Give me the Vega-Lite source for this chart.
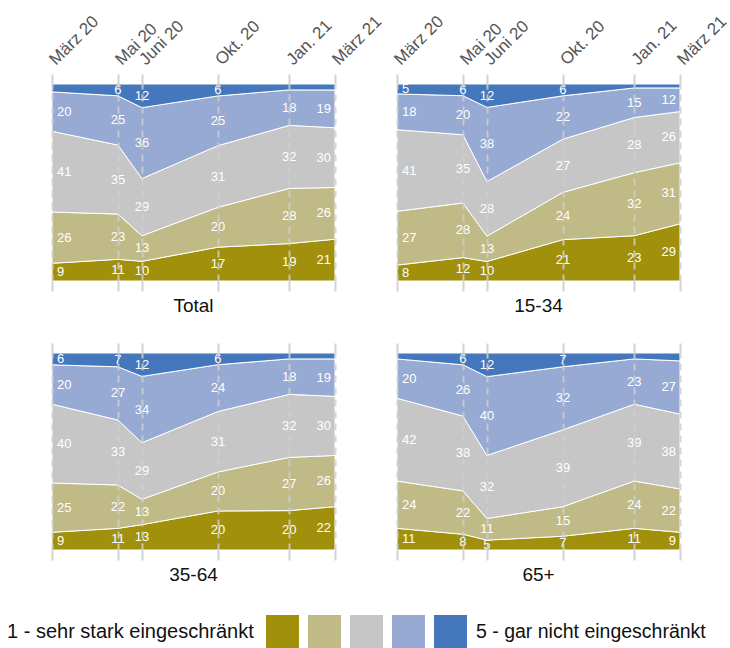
{
  "$schema": "https://vega.github.io/schema/vega-lite/v6.json",
  "padding": {"left": 7, "top": 12, "right": 0, "bottom": 0},
  "data": {"values": [
    {"g":"Total","date":"2020/03/05","cat":"1","v":9},{"g":"Total","date":"2020/03/05","cat":"2","v":26},{"g":"Total","date":"2020/03/05","cat":"3","v":41},{"g":"Total","date":"2020/03/05","cat":"4","v":20},{"g":"Total","date":"2020/03/05","cat":"5","v":4},
    {"g":"Total","date":"2020/05/29","cat":"1","v":11},{"g":"Total","date":"2020/05/29","cat":"2","v":23},{"g":"Total","date":"2020/05/29","cat":"3","v":35},{"g":"Total","date":"2020/05/29","cat":"4","v":25},{"g":"Total","date":"2020/05/29","cat":"5","v":6},
    {"g":"Total","date":"2020/06/29","cat":"1","v":10},{"g":"Total","date":"2020/06/29","cat":"2","v":13},{"g":"Total","date":"2020/06/29","cat":"3","v":29},{"g":"Total","date":"2020/06/29","cat":"4","v":36},{"g":"Total","date":"2020/06/29","cat":"5","v":12},
    {"g":"Total","date":"2020/10/05","cat":"1","v":17},{"g":"Total","date":"2020/10/05","cat":"2","v":20},{"g":"Total","date":"2020/10/05","cat":"3","v":31},{"g":"Total","date":"2020/10/05","cat":"4","v":25},{"g":"Total","date":"2020/10/05","cat":"5","v":6},
    {"g":"Total","date":"2021/01/05","cat":"1","v":19},{"g":"Total","date":"2021/01/05","cat":"2","v":28},{"g":"Total","date":"2021/01/05","cat":"3","v":32},{"g":"Total","date":"2021/01/05","cat":"4","v":18},{"g":"Total","date":"2021/01/05","cat":"5","v":3},
    {"g":"Total","date":"2021/03/05","cat":"1","v":21},{"g":"Total","date":"2021/03/05","cat":"2","v":26},{"g":"Total","date":"2021/03/05","cat":"3","v":30},{"g":"Total","date":"2021/03/05","cat":"4","v":19},{"g":"Total","date":"2021/03/05","cat":"5","v":3},

    {"g":"15-34","date":"2020/03/05","cat":"1","v":8},{"g":"15-34","date":"2020/03/05","cat":"2","v":27},{"g":"15-34","date":"2020/03/05","cat":"3","v":41},{"g":"15-34","date":"2020/03/05","cat":"4","v":18},{"g":"15-34","date":"2020/03/05","cat":"5","v":5},
    {"g":"15-34","date":"2020/05/29","cat":"1","v":12},{"g":"15-34","date":"2020/05/29","cat":"2","v":28},{"g":"15-34","date":"2020/05/29","cat":"3","v":35},{"g":"15-34","date":"2020/05/29","cat":"4","v":20},{"g":"15-34","date":"2020/05/29","cat":"5","v":6},
    {"g":"15-34","date":"2020/06/29","cat":"1","v":10},{"g":"15-34","date":"2020/06/29","cat":"2","v":13},{"g":"15-34","date":"2020/06/29","cat":"3","v":28},{"g":"15-34","date":"2020/06/29","cat":"4","v":38},{"g":"15-34","date":"2020/06/29","cat":"5","v":12},
    {"g":"15-34","date":"2020/10/05","cat":"1","v":21},{"g":"15-34","date":"2020/10/05","cat":"2","v":24},{"g":"15-34","date":"2020/10/05","cat":"3","v":27},{"g":"15-34","date":"2020/10/05","cat":"4","v":22},{"g":"15-34","date":"2020/10/05","cat":"5","v":6},
    {"g":"15-34","date":"2021/01/05","cat":"1","v":23},{"g":"15-34","date":"2021/01/05","cat":"2","v":32},{"g":"15-34","date":"2021/01/05","cat":"3","v":28},{"g":"15-34","date":"2021/01/05","cat":"4","v":15},{"g":"15-34","date":"2021/01/05","cat":"5","v":2},
    {"g":"15-34","date":"2021/03/05","cat":"1","v":29},{"g":"15-34","date":"2021/03/05","cat":"2","v":31},{"g":"15-34","date":"2021/03/05","cat":"3","v":26},{"g":"15-34","date":"2021/03/05","cat":"4","v":12},{"g":"15-34","date":"2021/03/05","cat":"5","v":2},

    {"g":"35-64","date":"2020/03/05","cat":"1","v":9},{"g":"35-64","date":"2020/03/05","cat":"2","v":25},{"g":"35-64","date":"2020/03/05","cat":"3","v":40},{"g":"35-64","date":"2020/03/05","cat":"4","v":20},{"g":"35-64","date":"2020/03/05","cat":"5","v":6},
    {"g":"35-64","date":"2020/05/29","cat":"1","v":11},{"g":"35-64","date":"2020/05/29","cat":"2","v":22},{"g":"35-64","date":"2020/05/29","cat":"3","v":33},{"g":"35-64","date":"2020/05/29","cat":"4","v":27},{"g":"35-64","date":"2020/05/29","cat":"5","v":7},
    {"g":"35-64","date":"2020/06/29","cat":"1","v":13},{"g":"35-64","date":"2020/06/29","cat":"2","v":13},{"g":"35-64","date":"2020/06/29","cat":"3","v":29},{"g":"35-64","date":"2020/06/29","cat":"4","v":34},{"g":"35-64","date":"2020/06/29","cat":"5","v":12},
    {"g":"35-64","date":"2020/10/05","cat":"1","v":20},{"g":"35-64","date":"2020/10/05","cat":"2","v":20},{"g":"35-64","date":"2020/10/05","cat":"3","v":31},{"g":"35-64","date":"2020/10/05","cat":"4","v":24},{"g":"35-64","date":"2020/10/05","cat":"5","v":6},
    {"g":"35-64","date":"2021/01/05","cat":"1","v":20},{"g":"35-64","date":"2021/01/05","cat":"2","v":27},{"g":"35-64","date":"2021/01/05","cat":"3","v":32},{"g":"35-64","date":"2021/01/05","cat":"4","v":18},{"g":"35-64","date":"2021/01/05","cat":"5","v":3},
    {"g":"35-64","date":"2021/03/05","cat":"1","v":22},{"g":"35-64","date":"2021/03/05","cat":"2","v":26},{"g":"35-64","date":"2021/03/05","cat":"3","v":30},{"g":"35-64","date":"2021/03/05","cat":"4","v":19},{"g":"35-64","date":"2021/03/05","cat":"5","v":3},

    {"g":"65+","date":"2020/03/05","cat":"1","v":11},{"g":"65+","date":"2020/03/05","cat":"2","v":24},{"g":"65+","date":"2020/03/05","cat":"3","v":42},{"g":"65+","date":"2020/03/05","cat":"4","v":20},{"g":"65+","date":"2020/03/05","cat":"5","v":3},
    {"g":"65+","date":"2020/05/29","cat":"1","v":8},{"g":"65+","date":"2020/05/29","cat":"2","v":22},{"g":"65+","date":"2020/05/29","cat":"3","v":38},{"g":"65+","date":"2020/05/29","cat":"4","v":26},{"g":"65+","date":"2020/05/29","cat":"5","v":6},
    {"g":"65+","date":"2020/06/29","cat":"1","v":5},{"g":"65+","date":"2020/06/29","cat":"2","v":11},{"g":"65+","date":"2020/06/29","cat":"3","v":32},{"g":"65+","date":"2020/06/29","cat":"4","v":40},{"g":"65+","date":"2020/06/29","cat":"5","v":12},
    {"g":"65+","date":"2020/10/05","cat":"1","v":7},{"g":"65+","date":"2020/10/05","cat":"2","v":15},{"g":"65+","date":"2020/10/05","cat":"3","v":39},{"g":"65+","date":"2020/10/05","cat":"4","v":32},{"g":"65+","date":"2020/10/05","cat":"5","v":7},
    {"g":"65+","date":"2021/01/05","cat":"1","v":11},{"g":"65+","date":"2021/01/05","cat":"2","v":24},{"g":"65+","date":"2021/01/05","cat":"3","v":39},{"g":"65+","date":"2021/01/05","cat":"4","v":23},{"g":"65+","date":"2021/01/05","cat":"5","v":3},
    {"g":"65+","date":"2021/03/05","cat":"1","v":9},{"g":"65+","date":"2021/03/05","cat":"2","v":22},{"g":"65+","date":"2021/03/05","cat":"3","v":38},{"g":"65+","date":"2021/03/05","cat":"4","v":27},{"g":"65+","date":"2021/03/05","cat":"5","v":4}
  ]},
  "columns": 2,
  "spacing": {"row": 72, "column": 62},
  "bounds": "flush",
  "concat": [
    {
      "width": 283, "height": 197,
      "title": {"text": "Total"},
      "transform": [{"filter": "datum.g == 'Total'"}],
      "layer": [
        {"mark": {"type": "area", "stroke": "white", "strokeWidth": 1, "opacity": 1},
         "encoding": {
           "x": {"field": "date", "type": "temporal", "scale": {"domain": [{"year":2020,"month":3,"date":5},{"year":2021,"month":3,"date":5}], "nice": false},
                 "axis": {"orient": "top", "title": null, "grid": true, "zindex": 1, "values": [{"year":2020,"month":3,"date":5},{"year":2020,"month":5,"date":29},{"year":2020,"month":6,"date":29},{"year":2020,"month":10,"date":5},{"year":2021,"month":1,"date":5},{"year":2021,"month":3,"date":5}], "labels": true}},
           "y": {"field": "v", "type": "quantitative", "stack": "normalize", "axis": null},
           "color": {"field": "cat", "type": "nominal", "title": "1 - sehr stark eingeschränkt", "scale": {"domain": ["1","2","3","4","5"], "range": ["#A0900B","#C0BA87","#C6C6C6","#96AAD3","#4477BB"]},
                     "legend": {"labelExpr": "datum.label == '5' ? '5 - gar nicht eingeschränkt' : ''", "orient": "none", "legendX": -45, "legendY": 531}},
           "order": {"field": "cat", "sort": "ascending"}
         }},
        {"mark": {"type": "text", "color": "white", "fontSize": 13, "align": "left", "dx": 5},
         "transform": [{"filter": {"field": "date", "equal": {"year":2020,"month":3,"date":5}}}],
         "encoding": {
           "x": {"field": "date", "type": "temporal", "axis": {"orient": "bottom", "title": null, "labels": false, "grid": false, "zindex": 1, "values": [{"year":2020,"month":3,"date":5},{"year":2020,"month":5,"date":29},{"year":2020,"month":6,"date":29},{"year":2020,"month":10,"date":5},{"year":2021,"month":1,"date":5},{"year":2021,"month":3,"date":5}]}},
           "y": {"field": "v", "type": "quantitative", "stack": "normalize", "bandPosition": 0.5, "axis": null},
           "detail": {"field": "cat"},
           "order": {"field": "cat", "sort": "ascending"},
           "text": {"field": "v", "type": "quantitative", "condition": {"test": "datum.v < 5", "value": ""}}
         }},
        {"mark": {"type": "text", "color": "white", "fontSize": 13, "align": "center"},
         "transform": [{"filter": {"not": {"or": [{"field": "date", "equal": {"year":2020,"month":3,"date":5}}, {"field": "date", "equal": {"year":2021,"month":3,"date":5}}]}}}],
         "encoding": {
           "x": {"field": "date", "type": "temporal", "axis": null},
           "y": {"field": "v", "type": "quantitative", "stack": "normalize", "bandPosition": 0.5, "axis": null},
           "detail": {"field": "cat"},
           "order": {"field": "cat", "sort": "ascending"},
           "text": {"field": "v", "type": "quantitative", "condition": {"test": "datum.v < 5", "value": ""}}
         }},
        {"mark": {"type": "text", "color": "white", "fontSize": 13, "align": "right", "dx": -4},
         "transform": [{"filter": {"field": "date", "equal": {"year":2021,"month":3,"date":5}}}],
         "encoding": {
           "x": {"field": "date", "type": "temporal", "axis": null},
           "y": {"field": "v", "type": "quantitative", "stack": "normalize", "bandPosition": 0.5, "axis": null},
           "detail": {"field": "cat"},
           "order": {"field": "cat", "sort": "ascending"},
           "text": {"field": "v", "type": "quantitative", "condition": {"test": "datum.v < 5", "value": ""}}
         }}
      ]
    },
    {
      "width": 283, "height": 197,
      "title": {"text": "15-34"},
      "transform": [{"filter": "datum.g == '15-34'"}],
      "layer": [
        {"mark": {"type": "area", "stroke": "white", "strokeWidth": 1, "opacity": 1},
         "encoding": {
           "x": {"field": "date", "type": "temporal", "scale": {"domain": [{"year":2020,"month":3,"date":5},{"year":2021,"month":3,"date":5}], "nice": false},
                 "axis": {"orient": "top", "title": null, "grid": true, "zindex": 1, "values": [{"year":2020,"month":3,"date":5},{"year":2020,"month":5,"date":29},{"year":2020,"month":6,"date":29},{"year":2020,"month":10,"date":5},{"year":2021,"month":1,"date":5},{"year":2021,"month":3,"date":5}], "labels": true}},
           "y": {"field": "v", "type": "quantitative", "stack": "normalize", "axis": null},
           "color": {"field": "cat", "type": "nominal", "title": "1 - sehr stark eingeschränkt", "scale": {"domain": ["1","2","3","4","5"], "range": ["#A0900B","#C0BA87","#C6C6C6","#96AAD3","#4477BB"]},
                     "legend": {"labelExpr": "datum.label == '5' ? '5 - gar nicht eingeschränkt' : ''", "orient": "none", "legendX": -45, "legendY": 531}},
           "order": {"field": "cat", "sort": "ascending"}
         }},
        {"mark": {"type": "text", "color": "white", "fontSize": 13, "align": "left", "dx": 5},
         "transform": [{"filter": {"field": "date", "equal": {"year":2020,"month":3,"date":5}}}],
         "encoding": {
           "x": {"field": "date", "type": "temporal", "axis": {"orient": "bottom", "title": null, "labels": false, "grid": false, "zindex": 1, "values": [{"year":2020,"month":3,"date":5},{"year":2020,"month":5,"date":29},{"year":2020,"month":6,"date":29},{"year":2020,"month":10,"date":5},{"year":2021,"month":1,"date":5},{"year":2021,"month":3,"date":5}]}},
           "y": {"field": "v", "type": "quantitative", "stack": "normalize", "bandPosition": 0.5, "axis": null},
           "detail": {"field": "cat"},
           "order": {"field": "cat", "sort": "ascending"},
           "text": {"field": "v", "type": "quantitative", "condition": {"test": "datum.v < 5", "value": ""}}
         }},
        {"mark": {"type": "text", "color": "white", "fontSize": 13, "align": "center"},
         "transform": [{"filter": {"not": {"or": [{"field": "date", "equal": {"year":2020,"month":3,"date":5}}, {"field": "date", "equal": {"year":2021,"month":3,"date":5}}]}}}],
         "encoding": {
           "x": {"field": "date", "type": "temporal", "axis": null},
           "y": {"field": "v", "type": "quantitative", "stack": "normalize", "bandPosition": 0.5, "axis": null},
           "detail": {"field": "cat"},
           "order": {"field": "cat", "sort": "ascending"},
           "text": {"field": "v", "type": "quantitative", "condition": {"test": "datum.v < 5", "value": ""}}
         }},
        {"mark": {"type": "text", "color": "white", "fontSize": 13, "align": "right", "dx": -4},
         "transform": [{"filter": {"field": "date", "equal": {"year":2021,"month":3,"date":5}}}],
         "encoding": {
           "x": {"field": "date", "type": "temporal", "axis": null},
           "y": {"field": "v", "type": "quantitative", "stack": "normalize", "bandPosition": 0.5, "axis": null},
           "detail": {"field": "cat"},
           "order": {"field": "cat", "sort": "ascending"},
           "text": {"field": "v", "type": "quantitative", "condition": {"test": "datum.v < 5", "value": ""}}
         }}
      ]
    },
    {
      "width": 283, "height": 197,
      "title": {"text": "35-64"},
      "transform": [{"filter": "datum.g == '35-64'"}],
      "layer": [
        {"mark": {"type": "area", "stroke": "white", "strokeWidth": 1, "opacity": 1},
         "encoding": {
           "x": {"field": "date", "type": "temporal", "scale": {"domain": [{"year":2020,"month":3,"date":5},{"year":2021,"month":3,"date":5}], "nice": false},
                 "axis": {"orient": "top", "title": null, "grid": true, "zindex": 1, "values": [{"year":2020,"month":3,"date":5},{"year":2020,"month":5,"date":29},{"year":2020,"month":6,"date":29},{"year":2020,"month":10,"date":5},{"year":2021,"month":1,"date":5},{"year":2021,"month":3,"date":5}], "labels": false}},
           "y": {"field": "v", "type": "quantitative", "stack": "normalize", "axis": null},
           "color": {"field": "cat", "type": "nominal", "title": "1 - sehr stark eingeschränkt", "scale": {"domain": ["1","2","3","4","5"], "range": ["#A0900B","#C0BA87","#C6C6C6","#96AAD3","#4477BB"]},
                     "legend": {"labelExpr": "datum.label == '5' ? '5 - gar nicht eingeschränkt' : ''", "orient": "none", "legendX": -45, "legendY": 531}},
           "order": {"field": "cat", "sort": "ascending"}
         }},
        {"mark": {"type": "text", "color": "white", "fontSize": 13, "align": "left", "dx": 5},
         "transform": [{"filter": {"field": "date", "equal": {"year":2020,"month":3,"date":5}}}],
         "encoding": {
           "x": {"field": "date", "type": "temporal", "axis": {"orient": "bottom", "title": null, "labels": false, "grid": false, "zindex": 1, "values": [{"year":2020,"month":3,"date":5},{"year":2020,"month":5,"date":29},{"year":2020,"month":6,"date":29},{"year":2020,"month":10,"date":5},{"year":2021,"month":1,"date":5},{"year":2021,"month":3,"date":5}]}},
           "y": {"field": "v", "type": "quantitative", "stack": "normalize", "bandPosition": 0.5, "axis": null},
           "detail": {"field": "cat"},
           "order": {"field": "cat", "sort": "ascending"},
           "text": {"field": "v", "type": "quantitative", "condition": {"test": "datum.v < 5", "value": ""}}
         }},
        {"mark": {"type": "text", "color": "white", "fontSize": 13, "align": "center"},
         "transform": [{"filter": {"not": {"or": [{"field": "date", "equal": {"year":2020,"month":3,"date":5}}, {"field": "date", "equal": {"year":2021,"month":3,"date":5}}]}}}],
         "encoding": {
           "x": {"field": "date", "type": "temporal", "axis": null},
           "y": {"field": "v", "type": "quantitative", "stack": "normalize", "bandPosition": 0.5, "axis": null},
           "detail": {"field": "cat"},
           "order": {"field": "cat", "sort": "ascending"},
           "text": {"field": "v", "type": "quantitative", "condition": {"test": "datum.v < 5", "value": ""}}
         }},
        {"mark": {"type": "text", "color": "white", "fontSize": 13, "align": "right", "dx": -4},
         "transform": [{"filter": {"field": "date", "equal": {"year":2021,"month":3,"date":5}}}],
         "encoding": {
           "x": {"field": "date", "type": "temporal", "axis": null},
           "y": {"field": "v", "type": "quantitative", "stack": "normalize", "bandPosition": 0.5, "axis": null},
           "detail": {"field": "cat"},
           "order": {"field": "cat", "sort": "ascending"},
           "text": {"field": "v", "type": "quantitative", "condition": {"test": "datum.v < 5", "value": ""}}
         }}
      ]
    },
    {
      "width": 283, "height": 197,
      "title": {"text": "65+"},
      "transform": [{"filter": "datum.g == '65+'"}],
      "layer": [
        {"mark": {"type": "area", "stroke": "white", "strokeWidth": 1, "opacity": 1},
         "encoding": {
           "x": {"field": "date", "type": "temporal", "scale": {"domain": [{"year":2020,"month":3,"date":5},{"year":2021,"month":3,"date":5}], "nice": false},
                 "axis": {"orient": "top", "title": null, "grid": true, "zindex": 1, "values": [{"year":2020,"month":3,"date":5},{"year":2020,"month":5,"date":29},{"year":2020,"month":6,"date":29},{"year":2020,"month":10,"date":5},{"year":2021,"month":1,"date":5},{"year":2021,"month":3,"date":5}], "labels": false}},
           "y": {"field": "v", "type": "quantitative", "stack": "normalize", "axis": null},
           "color": {"field": "cat", "type": "nominal", "title": "1 - sehr stark eingeschränkt", "scale": {"domain": ["1","2","3","4","5"], "range": ["#A0900B","#C0BA87","#C6C6C6","#96AAD3","#4477BB"]},
                     "legend": {"labelExpr": "datum.label == '5' ? '5 - gar nicht eingeschränkt' : ''", "orient": "none", "legendX": -45, "legendY": 531}},
           "order": {"field": "cat", "sort": "ascending"}
         }},
        {"mark": {"type": "text", "color": "white", "fontSize": 13, "align": "left", "dx": 5},
         "transform": [{"filter": {"field": "date", "equal": {"year":2020,"month":3,"date":5}}}],
         "encoding": {
           "x": {"field": "date", "type": "temporal", "axis": {"orient": "bottom", "title": null, "labels": false, "grid": false, "zindex": 1, "values": [{"year":2020,"month":3,"date":5},{"year":2020,"month":5,"date":29},{"year":2020,"month":6,"date":29},{"year":2020,"month":10,"date":5},{"year":2021,"month":1,"date":5},{"year":2021,"month":3,"date":5}]}},
           "y": {"field": "v", "type": "quantitative", "stack": "normalize", "bandPosition": 0.5, "axis": null},
           "detail": {"field": "cat"},
           "order": {"field": "cat", "sort": "ascending"},
           "text": {"field": "v", "type": "quantitative", "condition": {"test": "datum.v < 5", "value": ""}}
         }},
        {"mark": {"type": "text", "color": "white", "fontSize": 13, "align": "center"},
         "transform": [{"filter": {"not": {"or": [{"field": "date", "equal": {"year":2020,"month":3,"date":5}}, {"field": "date", "equal": {"year":2021,"month":3,"date":5}}]}}}],
         "encoding": {
           "x": {"field": "date", "type": "temporal", "axis": null},
           "y": {"field": "v", "type": "quantitative", "stack": "normalize", "bandPosition": 0.5, "axis": null},
           "detail": {"field": "cat"},
           "order": {"field": "cat", "sort": "ascending"},
           "text": {"field": "v", "type": "quantitative", "condition": {"test": "datum.v < 5", "value": ""}}
         }},
        {"mark": {"type": "text", "color": "white", "fontSize": 13, "align": "right", "dx": -4},
         "transform": [{"filter": {"field": "date", "equal": {"year":2021,"month":3,"date":5}}}],
         "encoding": {
           "x": {"field": "date", "type": "temporal", "axis": null},
           "y": {"field": "v", "type": "quantitative", "stack": "normalize", "bandPosition": 0.5, "axis": null},
           "detail": {"field": "cat"},
           "order": {"field": "cat", "sort": "ascending"},
           "text": {"field": "v", "type": "quantitative", "condition": {"test": "datum.v < 5", "value": ""}}
         }}
      ]
    }
  ],
  "config": {
    "font": "Liberation Sans",
    "view": {"stroke": null},
    "title": {"orient": "bottom", "fontSize": 19, "fontWeight": "normal", "color": "#111111", "baseline": "top", "offset": 5},
    "axis": {"domain": false, "ticks": true, "tickSize": 10, "tickColor": "#d2d2d2", "tickWidth": 2,
             "gridColor": "#cfcfcf", "gridWidth": 2, "gridDash": [7, 5], "gridOpacity": 0.85,
             "labelAngle": -45, "labelAlign": "left", "labelBaseline": "middle", "labelFontSize": 17, "labelColor": "#555555",
             "labelOverlap": false, "labelFlush": false, "labelPadding": 12, "labelBound": false,
             "labelExpr": "['Jan. ','Feb. ','März ','Apr. ','Mai ','Juni ','Juli ','Aug. ','Sep. ','Okt. ','Nov. ','Dez. '][month(datum.value)] + timeFormat(datum.value, '%y')"},
    "legend": {"direction": "horizontal", "titleOrient": "left", "titleFontSize": 20, "titleFontWeight": "normal", "titleColor": "#111111",
               "titleAnchor": "middle", "titleBaseline": "middle", "titlePadding": 12, "titleLimit": 400,
               "symbolType": "square", "symbolSize": 1089, "symbolStrokeWidth": 0, "symbolOpacity": 1,
               "labelFontSize": 19.5, "labelColor": "#111111", "labelLimit": 400, "labelOffset": 9, "columnPadding": 0}
  }
}
